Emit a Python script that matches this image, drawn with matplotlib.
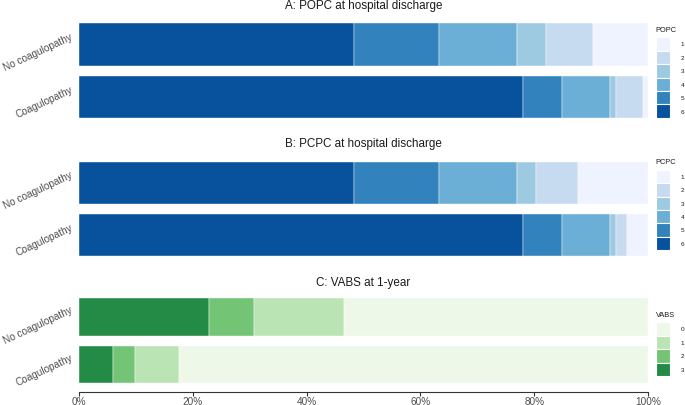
import matplotlib
matplotlib.use("Agg")
import matplotlib.pyplot as plt
from matplotlib.patches import Rectangle
from matplotlib.transforms import ScaledTranslation
import numpy as np

plt.rcParams["font.family"] = ["Liberation Sans", "DejaVu Sans"]

groups = ["Coagulopathy", "No coagulopathy"]

# percentages per outcome level, order [Coagulopathy, No coagulopathy]
popc_levels = ["6", "5", "4", "3", "2", "1"]
popc_values = {
    "6": [78.1, 48.4],
    "5": [6.7, 14.8],
    "4": [8.6, 13.8],
    "3": [0.9, 5.0],
    "2": [4.8, 8.3],
    "1": [0.9, 9.7],
}

pcpc_levels = ["6", "5", "4", "3", "2", "1"]
pcpc_values = {
    "6": [78.1, 48.4],
    "5": [6.7, 14.8],
    "4": [8.6, 13.8],
    "3": [0.9, 3.4],
    "2": [2.0, 7.3],
    "1": [3.7, 12.3],
}

vabs_levels = ["3", "2", "1", "0"]
vabs_values = {
    "3": [5.9, 22.8],
    "2": [3.9, 8.0],
    "1": [7.8, 15.8],
    "0": [82.4, 53.4],
}

blues = {"1": "#EFF3FF", "2": "#C6DBEF", "3": "#9ECAE1",
         "4": "#6BAED6", "5": "#3182BD", "6": "#08519C"}
greens = {"0": "#EDF8E9", "1": "#BAE4B3", "2": "#74C476", "3": "#238B45"}

W, H = 685, 406
fig = plt.figure(figsize=(W / 100, H / 100), dpi=100)


def px_axes(left, top, right, bottom):
    return fig.add_axes([left / W, 1 - bottom / H, (right - left) / W, (bottom - top) / H])


def draw_panel(ax, levels, values, colors, title, title_y, leg_title, leg_top, show_x, ylow):
    left = np.zeros(len(groups))
    for lev in levels:
        vals = np.array(values[lev])
        ax.barh(np.arange(1, len(groups) + 1), vals, left=left, height=0.8,
                color=colors[lev], edgecolor="white", linewidth=0.3)
        left += vals
    ax.set_xlim(0, 100)
    ax.set_ylim(ylow, 2.5)
    ax.set_yticks([1, 2])
    ax.set_yticklabels(groups, rotation=25, ha="right", va="baseline",
                       rotation_mode="anchor", color="#4D4D4D", fontsize=7.2)
    ax.tick_params(axis="y", length=0, pad=4)
    shift = ScaledTranslation(0, 5.5 / 100, fig.dpi_scale_trans)
    for lab in ax.get_yticklabels():
        lab.set_transform(lab.get_transform() + shift)
    for s in ["top", "right", "left"]:
        ax.spines[s].set_visible(False)
    if show_x:
        ax.spines["bottom"].set_color("#333333")
        ax.spines["bottom"].set_linewidth(0.8)
        ax.set_xticks([0, 20, 40, 60, 80, 100])
        ax.set_xticklabels(["0%", "20%", "40%", "60%", "80%", "100%"],
                           color="#4D4D4D", fontsize=7.2)
        ax.tick_params(axis="x", length=2.7, color="#333333", pad=0.5)
    else:
        ax.spines["bottom"].set_visible(False)
        ax.set_xticks([])
    fig.text(363.5 / W, 1 - title_y / H, title, fontsize=8.4, color="#1A1A1A",
             ha="center", va="center")

    # legend drawn as stacked keys (lowest level on top)
    fig.text(655.5 / W, 1 - (leg_top - 8) / H, leg_title, fontsize=5.3,
             color="#1A1A1A", va="center", ha="left")
    key_h = 13.4
    for i, lev in enumerate(sorted(levels, key=int)):
        y0 = leg_top + i * key_h
        fig.add_artist(Rectangle((656 / W, 1 - (y0 + key_h) / H), 13.6 / W, key_h / H,
                                 facecolor=colors[lev], edgecolor="white",
                                 linewidth=0.8, transform=fig.transFigure))
        fig.text(680.5 / W, 1 - (y0 + key_h / 2) / H, lev, fontsize=4.6,
                 color="#1A1A1A", va="center", ha="left")


axA = px_axes(79, 19.25, 648, 124.25)
draw_panel(axA, popc_levels, popc_values, blues, "A: POPC at hospital discharge", 6.5,
           "POPC", 38.3, False, 0.5)

axB = px_axes(79, 157.25, 648, 262.25)
draw_panel(axB, pcpc_levels, pcpc_values, blues, "B: PCPC at hospital discharge", 143.5,
           "PCPC", 170.7, False, 0.5)

axC = px_axes(79, 294.7, 648, 393)
draw_panel(axC, vabs_levels, vabs_values, greens, "C: VABS at 1-year", 283,
           "VABS", 323.3, True, 0.417)

fig.savefig("out.png", dpi=100)
